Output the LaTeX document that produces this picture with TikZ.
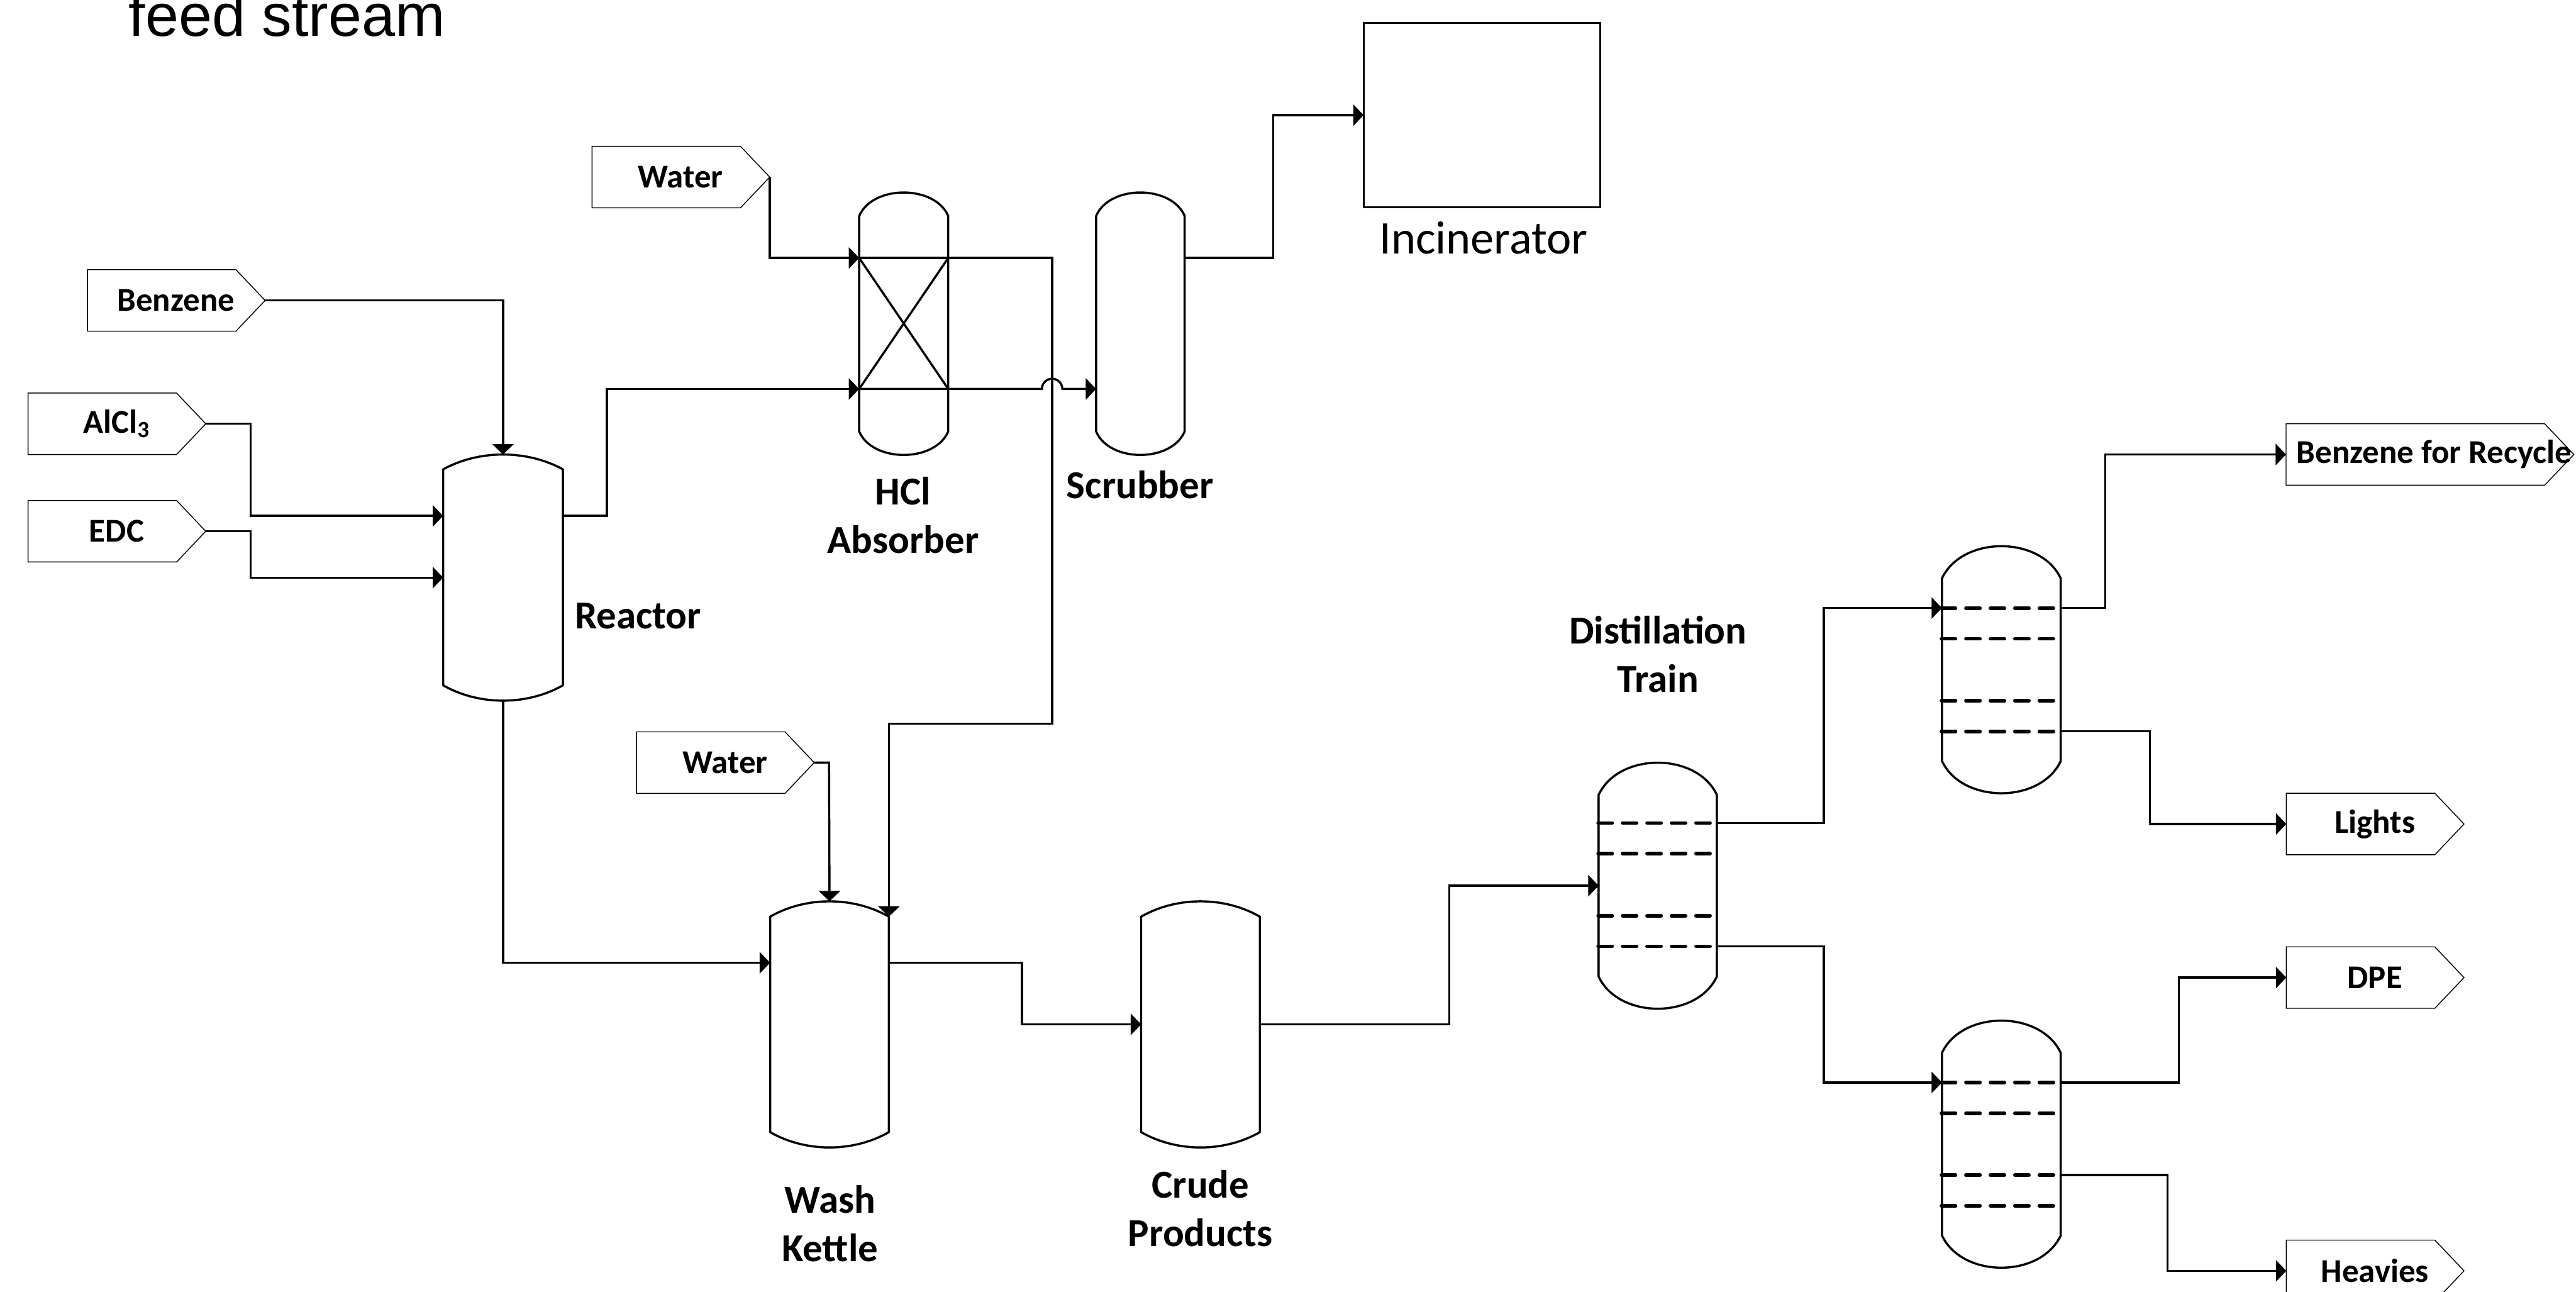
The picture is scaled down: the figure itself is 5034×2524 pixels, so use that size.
\documentclass[tikz,border=0pt]{standalone}
\usepackage{fontspec}
\setmainfont{Carlito}
\newfontfamily\titlefont{Liberation Sans}
\usetikzlibrary{arrows.meta,shapes.symbols}
\newcommand{\tagtext}[2][0.56cm]{\hspace*{#1}\makebox[0pt]{#2}}
\tikzset{
    flow/.style={line width=1.2pt, -{Triangle[length=5.8pt,width=11.8pt]}},
    vesselbody/.style={inner sep=0pt, outer sep=0pt},
    vesselwall/.style={line width=1.2pt, line join=round},
    traydash/.style={line width=2pt, line cap=round, dash pattern=on 7.8pt off 5.8pt},
    streamtag/.style={draw, line width=0.5pt, signal, signal to=east, signal pointer angle=93,
        minimum width=3.47cm, minimum height=1.2cm, inner sep=0pt, outer sep=0pt,
        font=\bfseries\fontsize{18.5}{20}\selectfont},
    unitlabel/.style={align=center, inner sep=0pt, font=\bfseries\fontsize{22}{27}\selectfont},
}

\begin{document}
\begin{tikzpicture}[x=0.01cm, y=-0.01cm]
    \clip (0,0) rectangle (5034,2524);

    % Title remnant
    \node[inner sep=0pt, anchor=base west, font=\titlefont\fontsize{33.3}{36}\selectfont] (title) at (251,71) {feed stream};

    % Vessels
    \foreach \name/\l/\r/\t/\s/\b/\e/\k in {
        reactor/866/1100/888/917/1339/1369/0.3,
        absorber/1679/1853/376/422/843/889/0.15,
        scrubber/2142/2315/376/422/843/889/0.15,
        kettle/1505/1737/1761/1791/2212/2242/0.3,
        crude/2230/2462/1761/1791/2212/2242/0.3,
        dist/3124/3355/1490/1553/1908/1971/0.17,
        topcol/3795/4027/1067/1130/1487/1550/0.17,
        botcol/3795/4027/1994/2057/2414/2477/0.17} {
        \node[vesselbody, minimum width={(\r-\l)*0.01cm}, minimum height={(\e-\t)*0.01cm}]
            (\name) at ({(\l+\r)/2},{(\t+\e)/2}) {};
        \draw[vesselwall] (\l,\s)
            .. controls ({\l+\k*(\r-\l)},{\s-1.33*(\s-\t)}) and ({\r-\k*(\r-\l)},{\s-1.33*(\s-\t)}) .. (\r,\s)
            -- (\r,\b)
            .. controls ({\r-\k*(\r-\l)},{\b+1.33*(\e-\b)}) and ({\l+\k*(\r-\l)},{\b+1.33*(\e-\b)}) .. (\l,\b)
            -- cycle;
    }

    % Column trays
    \foreach \name/\l/\t in {dist/3124/1487, topcol/3795/1067, botcol/3795/1994}
        \foreach \y in {121,181,302,362}
            \draw[traydash] ({\l-1},{\t+\y}) -- ({\l+224},{\t+\y});

    % Absorber packing
    \draw[vesselwall] (absorber.west |- 0,504) -- (absorber.east |- 0,760);
    \draw[vesselwall] (absorber.east |- 0,504) -- (absorber.west |- 0,760);

    % Incinerator
    \node[draw, line width=1.2pt, minimum width=4.62cm, minimum height=3.6cm, inner sep=0pt, outer sep=0pt] (incinerator) at (2896,225) {};

    % Stream tags
    \foreach \name/\x/\y/\label in {
        benzene/316/587/Benzene,
        alcl/200/828/AlCl\textsubscript{3},
        edc/200/1038/EDC,
        waterA/1302/346/Water,
        waterB/1389/1490/Water,
        lights/4613/1610/Lights,
        dpe/4613/1910/DPE,
        heavies/4613/2483/Heavies}
        \node[streamtag] (\name) at (\x,\y) {\tagtext{\label}};
    \node[streamtag, minimum width=5.62cm] (recycle) at (4720,888) {\tagtext[0.74cm]{Benzene for Recycle}};

    % Unit labels
    \node[unitlabel] (reactorlabel) at (1247,1203) {Reactor};
    \node[unitlabel] (absorberlabel) at (1765,1007) {HCl\\Absorber};
    \node[unitlabel] (scrubberlabel) at (2228,947) {Scrubber};
    \node[unitlabel] (kettlelabel) at (1622,2391) {Wash\\Kettle};
    \node[unitlabel] (crudelabel) at (2346,2361) {Crude\\Products};
    \node[unitlabel] (distlabel) at (3240,1278) {Distillation\\Train};
    \node[inner sep=0pt, font=\fontsize{26}{28}\selectfont] (incineratorlabel) at (2899,465) {Incinerator};

    % Side connections
    \coordinate (absorberA) at (absorber.west |- 0,504);
    \coordinate (absorberB) at (absorber.west |- 0,760);
    \coordinate (reactorA) at (reactor.west |- 0,1008);
    \coordinate (reactorB) at (reactor.east |- 0,1008);
    \coordinate (kettleA) at (kettle.west |- 0,1881);
    \coordinate (kettleB) at (kettle.east |- 0,1881);
    \coordinate (kettleC) at (kettle.east |- 0,1791);
    \coordinate (scrubberA) at (scrubber.west |- 0,760);
    \coordinate (scrubberB) at (scrubber.east |- 0,504);
    \coordinate (distA) at (dist.east |- 0,1608);
    \coordinate (distB) at (dist.east |- 0,1849);
    \coordinate (topcolA) at (topcol.west |- 0,1188);
    \coordinate (topcolB) at (topcol.east |- 0,1188);
    \coordinate (topcolC) at (topcol.east |- 0,1429);
    \coordinate (botcolA) at (botcol.west |- 0,2115);
    \coordinate (botcolB) at (botcol.east |- 0,2115);
    \coordinate (botcolC) at (botcol.east |- 0,2296);

    % Feeds
    \draw[flow] (benzene.east) -| (reactor.north);
    \draw[flow] (alcl.east) -- ++(88,0) |- (reactorA);
    \draw[flow] (edc.east) -- ++(88,0) |- (reactor.west);
    \draw[flow] (waterA.east) |- (absorberA);
    \draw[flow] (waterB.east) -- ++(29,0) -- (kettle.north);

    % Reactor to absorber and scrubber
    \draw[flow] (reactorB) -- ++(86,0) |- (absorberB);
    \draw[flow] (absorberB) -- ++(357,0) arc[start angle=180, end angle=360, radius=20] -- (scrubberA);
    \draw[flow] (absorberA) -- ++(377,0) -- ++(0,910) -| (kettleC);
    \draw[flow] (scrubberB) -- ++(173,0) |- (incinerator.west);

    % Wash and crude
    \draw[flow] (reactor.south) |- (kettleA);
    \draw[flow] (kettleB) -- ++(260,0) |- (crude.west);
    \draw[flow] (crude.east) -- ++(370,0) |- (dist.west);

    % Distillation train
    \draw[flow] (distA) -- ++(209,0) |- (topcolA);
    \draw[flow] (distB) -- ++(209,0) |- (botcolA);
    \draw[flow] (topcolB) -- ++(87,0) |- (recycle.west);
    \draw[flow] (topcolC) -- ++(174,0) |- (lights.west);
    \draw[flow] (botcolB) -- ++(231,0) |- (dpe.west);
    \draw[flow] (botcolC) -- ++(209,0) |- (heavies.west);
\end{tikzpicture}
\end{document}
